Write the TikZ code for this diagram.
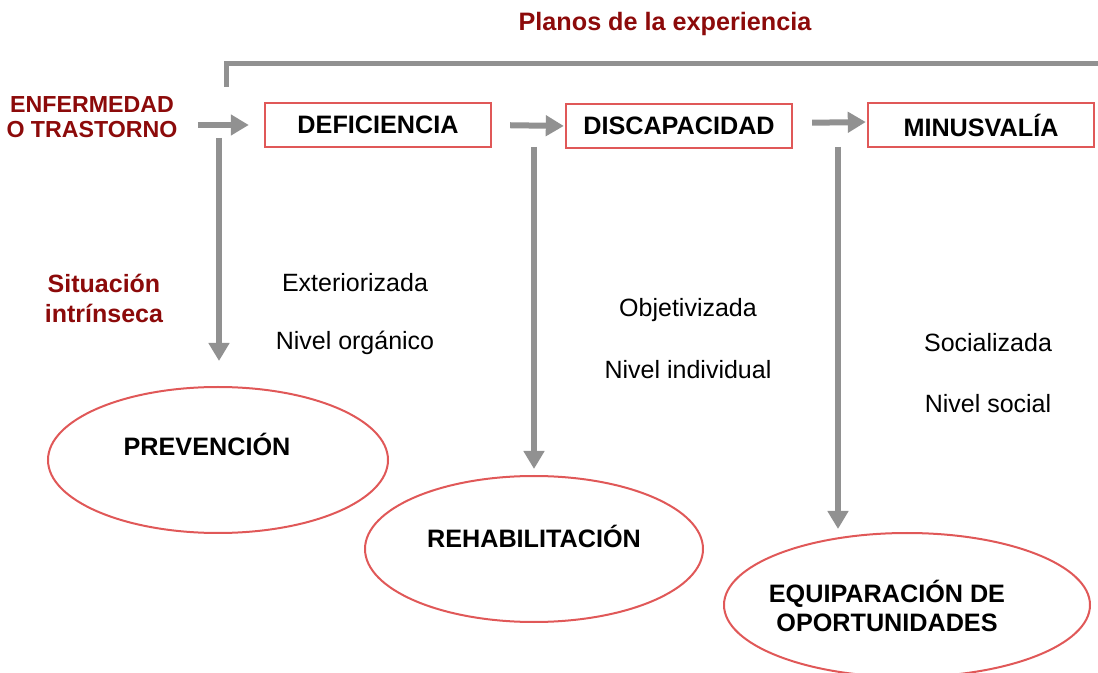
\documentclass[tikz,border=0pt]{standalone}
\usepackage{fontspec}
\setmainfont{Liberation Sans}
\usetikzlibrary{shapes.geometric,arrows.meta}
\definecolor{rojo}{RGB}{224,88,88}
\definecolor{granate}{RGB}{140,10,10}
\definecolor{gris}{RGB}{145,145,145}

\begin{document}
\begin{tikzpicture}[x=0.5pt,y=-0.5pt,
  caja/.style={draw=rojo,line width=1.2pt,minimum width=113pt,minimum height=22pt,
    inner sep=0pt,font=\fontsize{12.6}{14}\selectfont\bfseries},
  elipse/.style={ellipse,draw=rojo,line width=1pt,inner sep=0pt},
  flecha/.style={draw=gris,line width=3pt,-{Triangle[width=10pt,length=9pt]}},
  rotulo/.style={text=granate,font=\fontsize{11.6}{12.5}\selectfont\bfseries,align=center,inner sep=0pt},
  nota/.style={font=\fontsize{12.5}{15}\selectfont},
  accion/.style={font=\fontsize{12.6}{14.5}\selectfont\bfseries,align=center}]
  \useasboundingbox (0,0) rectangle (1098,673);

  % --- Title and bracket ---
  \node[rotulo,font=\fontsize{12.6}{14}\selectfont\bfseries] (planos) at (665,24) {Planos de la experiencia};
  \draw[gris,line width=2.5pt] (226,87) |- (1098,64);

  % --- Chain of boxes ---
  \node[rotulo] (enf) at (92,117) {ENFERMEDAD\\O TRASTORNO};
  \node[caja] (def) at (378,125) {DEFICIENCIA};
  \node[caja] (disc) at (679,126) {DISCAPACIDAD};
  \node[caja] (minus) at (981,125) {MINUSVALÍA};

  \draw[flecha,shorten <=10pt,shorten >=7.5pt] (enf.east |- def.west) -- (def.west);
  \draw[flecha,shorten <=9pt,shorten >=0.5pt] (def.east) -- (disc.west);
  \draw[flecha,shorten <=9.5pt,shorten >=0.5pt] ([yshift=1.5pt]disc.east) -- ([yshift=1.5pt]minus.west);

  % --- Responses ---
  \node[elipse,minimum width=170pt,minimum height=73pt] (prev) at (218,460) {};
  \node[elipse,minimum width=169pt,minimum height=73pt] (rehab) at (534,549) {};
  \node[elipse,minimum width=183pt,minimum height=72pt] (equi) at (907,605) {};
  \node[accion] (tprev) at (207,444) {PREVENCIÓN};
  \node[accion] (trehab) at (534,536) {REHABILITACIÓN};
  \node[accion] (tequi) at (887,606) {EQUIPARACIÓN DE\\OPORTUNIDADES};

  % --- Down arrows ---
  \coordinate (d1) at (219,138);
  \coordinate (d2) at (534,147);
  \coordinate (d3) at (838,147);
  \draw[flecha,shorten >=12.5pt] (d1) -- (d1 |- prev.north);
  \draw[flecha,shorten >=3pt] (d2) -- (d2 |- rehab.north);
  \draw[flecha,shorten >=1.5pt] (d3) -- (d3 |- equi.north);

  % --- Labels ---
  \node[rotulo,font=\fontsize{12.5}{15}\selectfont\bfseries] (sit) at (104,298) {Situación\\intrínseca};
  \node[nota] (ext) at (355,283) {Exteriorizada};
  \node[nota] (org) at (355,343) {Nivel orgánico};
  \node[nota] (obj) at (688,310) {Objetivizada};
  \node[nota] (ind) at (688,370) {Nivel individual};
  \node[nota] (soc) at (988,343) {Socializada};
  \node[nota] (nsoc) at (988,404) {Nivel social};
\end{tikzpicture}
\end{document}
